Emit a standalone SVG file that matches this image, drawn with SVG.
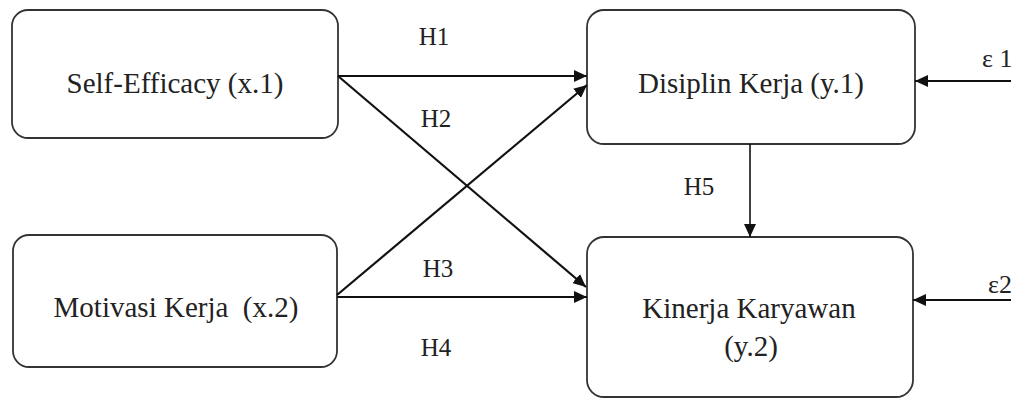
<svg xmlns="http://www.w3.org/2000/svg" width="1011" height="398" viewBox="0 0 1011 398">
<style>
.box{fill:#fff;stroke:#333;stroke-width:1.8}
.t{font-size:29px;fill:#222;text-anchor:middle}
.h{font-size:25px;fill:#222;text-anchor:middle}
.e{font-size:26px;fill:#222}
.c{stroke:#111;stroke-width:2.2;fill:none;marker-end:url(#ah)}
</style>
<defs>
<marker id="ah" markerUnits="userSpaceOnUse" markerWidth="14" markerHeight="12" refX="13" refY="6" orient="auto">
<path d="M0,0 L13,6 L0,12 Z" fill="#111"/>
</marker>
</defs>
<rect width="1011" height="398" fill="#fff"/>
<g font-family="Liberation Serif, DejaVu Serif, serif">
<g id="n1"><rect class="box" x="12" y="10" width="326" height="128" rx="16"/><text class="t" x="175" y="93">Self-Efficacy (x.1)</text></g>
<g id="n2"><rect class="box" x="587" y="10" width="328" height="134" rx="17"/><text class="t" x="751" y="93">Disiplin Kerja (y.1)</text></g>
<g id="n3"><rect class="box" x="13" y="235" width="324" height="132" rx="16"/><text class="t" x="176" y="317" xml:space="preserve">Motivasi Kerja  (x.2)</text></g>
<g id="n4"><rect class="box" x="587" y="237" width="326" height="160" rx="17"/><text class="t" x="749" y="318">Kinerja Karyawan</text><text class="t" x="751" y="356">(y.2)</text></g>
<g id="connectors">
<line class="c" x1="338" y1="76" x2="587" y2="76"/>
<line class="c" x1="338" y1="76" x2="586" y2="287"/>
<line class="c" x1="337" y1="295" x2="587" y2="85"/>
<line class="c" x1="337" y1="297" x2="587" y2="297"/>
<line class="c" style="stroke-width:1.6" x1="750" y1="144" x2="750" y2="237"/>
<line class="c" x1="1011" y1="81" x2="915" y2="81"/>
<line class="c" x1="1011" y1="300" x2="913" y2="300"/>
</g>
<g id="labels">
<text class="h" x="434" y="45">H1</text>
<text class="h" x="436" y="127">H2</text>
<text class="h" x="438" y="277">H3</text>
<text class="h" x="436" y="356">H4</text>
<text class="h" x="699" y="195">H5</text>
<text class="e" x="982" y="67" xml:space="preserve">ε 1</text>
<text class="e" x="988" y="293">ε2</text>
</g>
</g>
</svg>
